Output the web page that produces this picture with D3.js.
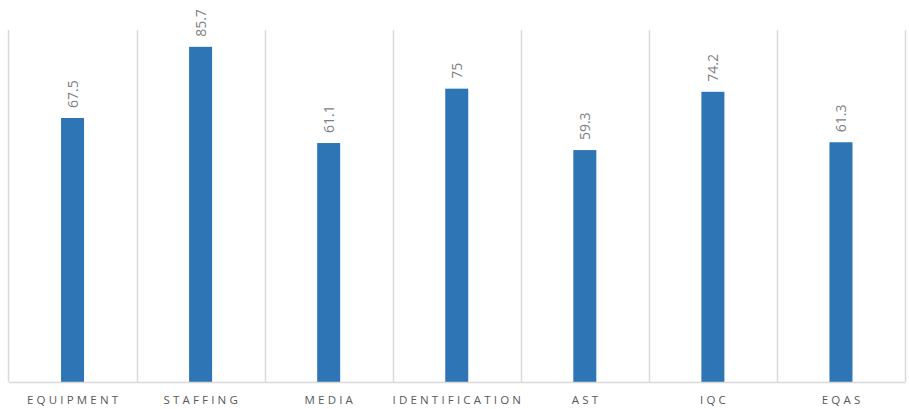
<!DOCTYPE html>
<html>
<head>
<meta charset="utf-8">
<script src="https://cdn.jsdelivr.net/npm/d3@7"></script>
<style>
  html, body { margin: 0; padding: 0; background: #fff; }
  svg { display: block; }
</style>
</head>
<body>
<svg id="chart" width="909" height="409"></svg>
<script>
// Scores per assessment area
const categories = ["EQUIPMENT", "STAFFING", "MEDIA", "IDENTIFICATION", "AST", "IQC", "EQAS"];
const scores = [67.5, 85.7, 61.1, 75, 59.3, 74.2, 61.3];
const yDomain = [0, 90];

const svg = d3.select("#chart");
const margin = { left: 8.5, right: 4, top: 30, bottom: 27 };
const W = 909, H = 409;

const x = d3.scaleBand()
  .domain(categories)
  .range([margin.left, W - margin.right])
  .paddingInner(0).paddingOuter(0);

const y = d3.scaleLinear()
  .domain(yDomain)
  .range([H - margin.bottom, margin.top]);

// Vertical separators at category boundaries
const bounds = categories.map(c => x(c)).concat([x(categories[categories.length - 1]) + x.bandwidth()]);
svg.append("g")
  .selectAll("line")
  .data(bounds)
  .join("line")
  .attr("x1", d => Math.round(d) + 0.5)
  .attr("x2", d => Math.round(d) + 0.5)
  .attr("y1", y(yDomain[1]))
  .attr("y2", y(0))
  .attr("stroke", "#d9d9d9")
  .attr("stroke-width", 1.5);

// Bars
const barW = 23;
svg.append("g")
  .selectAll("rect")
  .data(categories)
  .join("rect")
  .attr("x", (d) => x(d) + x.bandwidth() / 2 - barW / 2)
  .attr("y", (d, i) => y(scores[i]))
  .attr("width", barW)
  .attr("height", (d, i) => y(0) - y(scores[i]))
  .attr("fill", "#2e75b6");

// Baseline axis
const xAxis = d3.axisBottom(x).tickSize(0).tickPadding(14);
const gx = svg.append("g")
  .attr("transform", `translate(0,${y(0)})`)
  .call(xAxis);
gx.select(".domain").attr("stroke", "#d9d9d9").attr("stroke-width", 1.5);
gx.selectAll(".tick text")
  .attr("font-family", "'Open Sans', sans-serif")
  .attr("font-size", 11.5)
  .attr("fill", "#595959")
  .attr("letter-spacing", "3.2px")
  .attr("dx", "1.6px");

// Value labels, rotated above each bar
svg.append("g")
  .selectAll("text")
  .data(categories)
  .join("text")
  .attr("transform", (d, i) => `translate(${x(d) + x.bandwidth() / 2 + 5},${y(scores[i]) - 10}) rotate(-90)`)
  .attr("text-anchor", "start")
  .attr("font-family", "'Open Sans', sans-serif")
  .attr("font-size", 14)
  .attr("fill", "#7f7f7f")
  .text((d, i) => scores[i]);
</script>
</body>
</html>
